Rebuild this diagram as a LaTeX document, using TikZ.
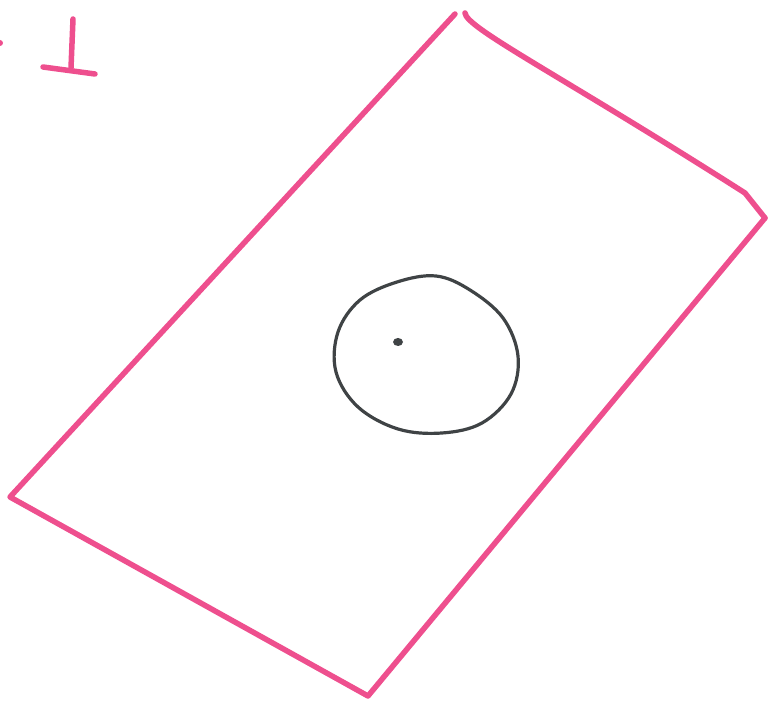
\documentclass[tikz,border=0pt]{standalone}
\definecolor{pinkink}{HTML}{EE4F8E}
\definecolor{grayink}{HTML}{3F4345}
\begin{document}
\begin{tikzpicture}[x=1pt,y=-1pt,
  pinkstroke/.style={draw=pinkink,line width=5.5pt,line cap=round,line join=round},
  graystroke/.style={draw=grayink,line width=3.2pt,line cap=round,line join=round}]
\useasboundingbox (0,0) rectangle (769,708);
% top-left mark
\draw[pinkstroke] (73,19) -- (71,68);
\draw[pinkstroke] (43,67) -- (95,74);
\fill[pinkink] (0,43) circle [radius=3];
% quadrilateral
\coordinate (top1) at (455,14);
\coordinate (top2) at (465,13);
\coordinate (rc) at (765,218);
\coordinate (bc) at (368,696);
\coordinate (lc) at (10,497);
\draw[pinkstroke] (top1) -- (lc) -- (bc) -- (rc);
\draw[pinkstroke] (top2) .. controls (466,28) and (560,75) .. (745,193) -- (rc);
% circle with dot
\draw[graystroke] plot[smooth cycle, tension=0.6] coordinates {
  (436,276) (470,290) (503,318) (518,356) (511,394) (482,423) (442,433)
  (398,429) (358,407) (336,372) (338,332) (360,300) (397,282)};
\fill[grayink] (398,342) ellipse [x radius=5, y radius=4];
\end{tikzpicture}
\end{document}
